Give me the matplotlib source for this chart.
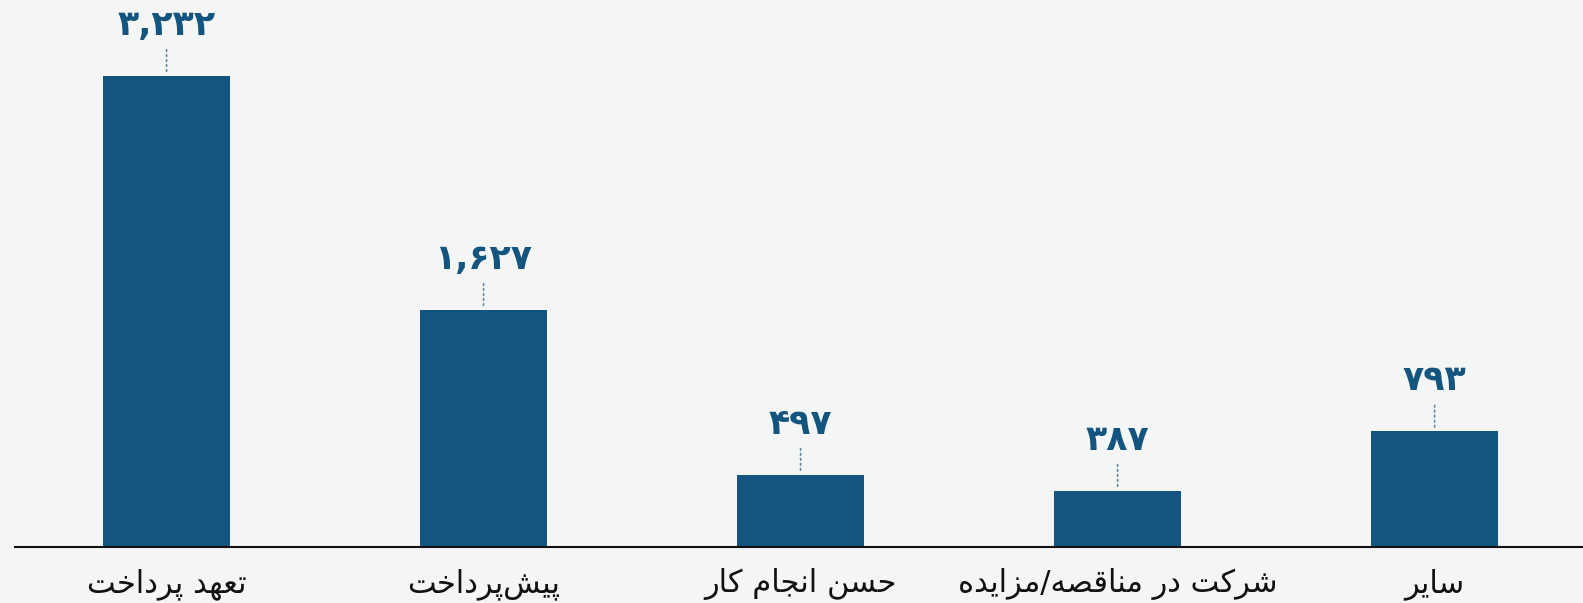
import matplotlib
matplotlib.use("Agg")
import matplotlib.pyplot as plt

# ---- data ----
categories = ["تعهد پرداخت", "پیش\u200cپرداخت", "حسن انجام کار", "شرکت در مناقصه/مزایده", "سایر"]
values = [3232, 1627, 497, 387, 793]

BAR_COLOR = "#14557f"
BG_COLOR = "#f4f6f6"
LINE_COLOR = "#5f86a3"

# ---- minimal Arabic/Persian shaping (matplotlib has no complex text layout) ----
# letter: (isolated, final, initial, medial); initial/medial None for right-joining letters
FORMS = {
    "ا": ("\uFE8D", "\uFE8E", None, None),
    "ت": ("\uFE95", "\uFE96", "\uFE97", "\uFE98"),
    "ج": ("\uFE9D", "\uFE9E", "\uFE9F", "\uFEA0"),
    "ح": ("\uFEA1", "\uFEA2", "\uFEA3", "\uFEA4"),
    "خ": ("\uFEA5", "\uFEA6", "\uFEA7", "\uFEA8"),
    "د": ("\uFEA9", "\uFEAA", None, None),
    "ر": ("\uFEAD", "\uFEAE", None, None),
    "ز": ("\uFEAF", "\uFEB0", None, None),
    "س": ("\uFEB1", "\uFEB2", "\uFEB3", "\uFEB4"),
    "ش": ("\uFEB5", "\uFEB6", "\uFEB7", "\uFEB8"),
    "ص": ("\uFEB9", "\uFEBA", "\uFEBB", "\uFEBC"),
    "ض": ("\uFEBD", "\uFEBE", "\uFEBF", "\uFEC0"),
    "ع": ("\uFEC9", "\uFECA", "\uFECB", "\uFECC"),
    "ق": ("\uFED5", "\uFED6", "\uFED7", "\uFED8"),
    "م": ("\uFEE1", "\uFEE2", "\uFEE3", "\uFEE4"),
    "ن": ("\uFEE5", "\uFEE6", "\uFEE7", "\uFEE8"),
    "ه": ("\uFEE9", "\uFEEA", "\uFEEB", "\uFEEC"),
    "پ": ("\uFB56", "\uFB57", "\uFB58", "\uFB59"),
    "ک": ("\uFB8E", "\uFB8F", "\uFB90", "\uFB91"),
    "ی": ("\uFBFC", "\uFBFD", "\uFBFE", "\uFBFF"),
}


def shape_rtl(text):
    chars = list(text)
    out = []
    for i, ch in enumerate(chars):
        if ch not in FORMS:
            if ch != "\u200c":
                out.append(ch)
            continue
        prev = chars[i - 1] if i > 0 else None
        nxt = chars[i + 1] if i + 1 < len(chars) else None
        joins_prev = prev in FORMS and FORMS[prev][2] is not None
        joins_next = FORMS[ch][2] is not None and nxt in FORMS
        iso, fin, ini, med = FORMS[ch]
        if joins_prev and joins_next:
            out.append(med)
        elif joins_prev:
            out.append(fin)
        elif joins_next:
            out.append(ini)
        else:
            out.append(iso)
    return "".join(reversed(out))


PERSIAN_DIGITS = str.maketrans("0123456789", "۰۱۲۳۴۵۶۷۸۹")


def fa_number(v):
    return f"{v:,}".translate(PERSIAN_DIGITS)


# ---- figure ----
W, H = 1583, 603
fig = plt.figure(figsize=(W / 100, H / 100), dpi=100, facecolor=BG_COLOR)
ax = fig.add_axes([15 / W, 56 / H, (W - 15) / W, 547 / H])
ax.set_facecolor(BG_COLOR)

x = range(len(categories))
ax.bar(x, values, width=0.4, color=BAR_COLOR, zorder=2)

ax.set_xlim(-0.478, 4.468)
ax.set_ylim(0, 3751)

for i, v in zip(x, values):
    ax.annotate("", xy=(i, v), xytext=(0, 26), textcoords="offset pixels",
                xycoords="data",
                arrowprops=dict(arrowstyle="-", linestyle=(0, (1, 2)), color=LINE_COLOR,
                                lw=1.2, shrinkA=0, shrinkB=1))
    ax.annotate(fa_number(v), xy=(i, v), xytext=(0, 41), textcoords="offset pixels",
                ha="center", va="baseline", fontsize=25, fontweight="bold",
                color=BAR_COLOR, family="DejaVu Sans")

ax.set_xticks(list(x))
ax.set_xticklabels([shape_rtl(c) for c in categories], fontsize=22,
                   family="DejaVu Sans", color="#111111")
ax.tick_params(axis="x", length=0, pad=15)
ax.set_yticks([])

for side in ("top", "right", "left"):
    ax.spines[side].set_visible(False)
ax.spines["bottom"].set_color("#111111")
ax.spines["bottom"].set_linewidth(1.5)

fig.savefig("out.png", dpi=100, facecolor=BG_COLOR)
